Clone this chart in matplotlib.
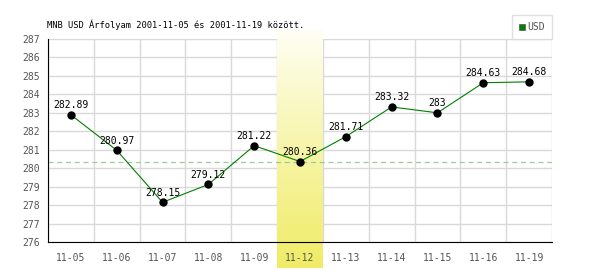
import numpy as np
import matplotlib
matplotlib.use("Agg")
from matplotlib import pyplot as plt

dates = ["11-05", "11-06", "11-07", "11-08", "11-09", "11-12",
         "11-13", "11-14", "11-15", "11-16", "11-19"]
rates = [282.89, 280.97, 278.15, 279.12, 281.22, 280.36,
         281.71, 283.32, 283, 284.63, 284.68]
labels = ["282.89", "280.97", "278.15", "279.12", "281.22", "280.36",
          "281.71", "283.32", "283", "284.63", "284.68"]
highlight = 5  # 11-12
title = "MNB USD Árfolyam 2001-11-05 és 2001-11-19 között."

plt.rcParams["font.family"] = ["DejaVu Sans Mono"]

fig = plt.figure(figsize=(6, 2.7), dpi=100)
ax = fig.add_axes([48 / 600, 28 / 270, 504 / 600, 203 / 270])
ax.patch.set_alpha(0)

x = np.arange(len(dates))
yticks = np.arange(276, 288, 1)

ax.set_yticks(yticks)
ax.set_xticks(x)
ax.set_xticklabels(dates)
ax.tick_params(axis="both", which="both", length=0, labelsize=7, labelcolor="#555555")
ax.tick_params(axis="y", pad=6)
ax.tick_params(axis="x", pad=8)

# grid drawn by hand so the band can sit on top of it
for yv in yticks:
    ax.axhline(yv, color="#d9d9d9", lw=1, zorder=0.3)
for xv in np.arange(-0.5, len(dates), 1):
    ax.axvline(xv, color="#d9d9d9", lw=1, zorder=0.3)

for s in ["top", "right"]:
    ax.spines[s].set_visible(False)
ax.spines["left"].set_color("black")
ax.spines["bottom"].set_color("black")

# highlight band with vertical gradient
grad = np.linspace(0, 1, 256).reshape(-1, 1)
top = np.array([1.0, 1.0, 0.97])
bot = np.array([0.94, 0.925, 0.40])
img = top + (bot - top) * grad[..., None] ** 0.9
img = img.reshape(256, 1, 3)
ax.imshow(img, extent=(highlight - 0.5, highlight + 0.5, 274.6, 287.5),
          aspect="auto", origin="upper", zorder=0.8, clip_on=False)
ax.set_xlim(-0.5, len(dates) - 0.5)
ax.set_ylim(276, 287)

# reference dashed line at the highlighted day
ax.axhline(rates[highlight], color="#99cc99", lw=0.9, ls=(0, (4, 3)), zorder=1)

ax.plot(x, rates, color="#008000", lw=0.8, zorder=3, label="USD")
ax.plot(x, rates, "o", color="black", ms=5, zorder=4)
for xi, yi, lab in zip(x, rates, labels):
    ax.annotate(lab, (xi, yi), xytext=(0, 7), textcoords="offset points",
                ha="center", va="center", fontsize=7, color="black", zorder=5)

fig.text(47 / 600, 1 - 25 / 270, title, fontsize=6.3, va="center", ha="left")

leg = ax.legend(handles=[plt.Line2D([], [], marker="s", color="#008000", ls="",
                                    ms=4.5, markeredgecolor="#555555", markeredgewidth=0.5)],
                labels=["USD"], loc="lower right", bbox_to_anchor=(1.0, 1.0),
                borderaxespad=0, fontsize=7, frameon=True, fancybox=False,
                handlelength=0.6, handletextpad=0.3, borderpad=0.7)
leg.get_frame().set_edgecolor("#d9d9d9")
leg.get_frame().set_linewidth(1)
for t in leg.get_texts():
    t.set_color("#555555")

fig.savefig("out.png", dpi=100)
